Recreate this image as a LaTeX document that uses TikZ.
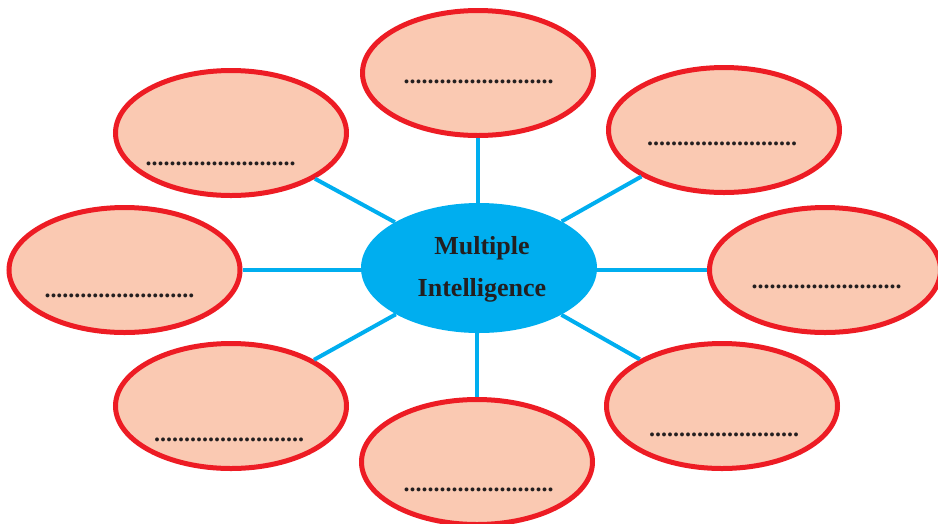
\documentclass[tikz,border=0pt]{standalone}
\usepackage{fontspec}
\setmainfont{Liberation Serif}
\usetikzlibrary{shapes.geometric}
\definecolor{ringred}{RGB}{237,28,36}
\definecolor{peach}{RGB}{250,201,178}
\definecolor{skyblue}{RGB}{0,174,239}
\definecolor{inkgray}{RGB}{35,31,32}
\tikzset{
  bubble/.style={ellipse, draw=ringred, fill=peach, line width=5pt, inner sep=0pt,
    minimum width=231pt, minimum height=125pt},
  hub/.style={ellipse, fill=skyblue, inner sep=0pt, minimum width=236pt, minimum height=130pt},
  blank/.style={anchor=base, inner sep=0pt, text=inkgray, font=\fontsize{24}{24}\selectfont\bfseries},
  spoke/.style={draw=skyblue, line width=4pt},
  hubtext/.style={anchor=base, inner sep=0pt, text=inkgray, font=\fontsize{26}{26}\selectfont\bfseries}
}
\newcommand{\blankline}{.........................}
\begin{document}
\begin{tikzpicture}[x=1pt,y=-1pt]
\useasboundingbox (0,0) rectangle (938,523);
% hub
\node[hub] (c) at (479,268) {};
% bubbles
\node[bubble] (t)  at (478,73) {};
\node[bubble] (tl) at (231,133) {};
\node[bubble] (tr) at (724,130) {};
\node[bubble] (l)  at (124.5,270) {};
\node[bubble] (r)  at (825,270) {};
\node[bubble] (bl) at (231,406) {};
\node[bubble] (b)  at (477,462) {};
\node[bubble] (br) at (722,406) {};
% spokes
\draw[spoke] (t.south) -- (t.south |- c.north);
\draw[spoke] (c) -- (tl);
\draw[spoke] (c) -- (tr);
\draw[spoke] (l.east) -- (l.east -| c.west);
\draw[spoke] (r.west) -- (r.west -| c.east);
\draw[spoke] (c) -- (bl);
\draw[spoke] (b.north) -- (b.north |- c.south);
\draw[spoke] (c) -- (br);
% blanks
\node[blank] (tdots)  at (478.5,83.6) {\blankline};
\node[blank] (tldots) at (220.5,165.6) {\blankline};
\node[blank] (trdots) at (722,145.6) {\blankline};
\node[blank] (ldots)  at (119.5,297.6) {\blankline};
\node[blank] (rdots)  at (826.5,288.6) {\blankline};
\node[blank] (bldots) at (229,441.6) {\blankline};
\node[blank] (bdots)  at (478.5,491.6) {\blankline};
\node[blank] (brdots) at (724,436.6) {\blankline};
% hub text
\node[hubtext] (m1) at (482,254) {Multiple};
\node[hubtext] (m2) at (482,296) {Intelligence};
\end{tikzpicture}
\end{document}
